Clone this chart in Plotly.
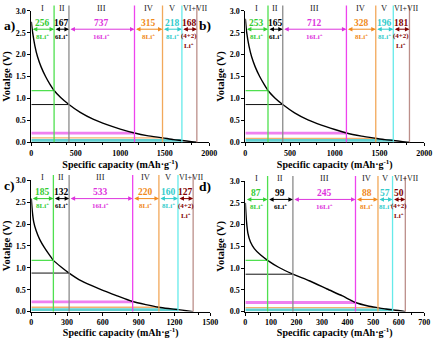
import numpy as np
import plotly.graph_objects as go

FONT = "Liberation Serif, Times New Roman, serif"

# ---------------- data ----------------
stage_names = ["I", "II", "III", "IV", "V", "VI+VII"]
stage_li = ["8Li<sup>+</sup>", "6Li<sup>+</sup>", "16Li<sup>+</sup>", "8Li<sup>+</sup>", "8Li<sup>+</sup>", "(4+2)"]

cap_a = [256, 167, 737, 315, 218, 168]
cap_b = [253, 165, 712, 328, 196, 181]
cap_c = [185, 132, 533, 220, 160, 127]
cap_d = [87, 99, 245, 88, 57, 50]

# voltage at the end of stages I..V (horizontal guide lines)
lvl_a = [1.18, 0.86, 0.21, 0.10, 0.04]
lvl_b = [1.18, 0.86, 0.21, 0.09, 0.04]
lvl_c = [1.17, 0.88, 0.22, 0.10, 0.045]
lvl_d = [1.18, 0.86, 0.21, 0.09, 0.04]

# discharge curves
curve_a_x = [0, 15, 40, 70, 110, 160, 210, 256, 330, 423, 550, 700, 850, 1000, 1160, 1300, 1475, 1600, 1693, 1800, 1861]
curve_a_y = [2.75, 2.5, 2.2, 1.95, 1.72, 1.5, 1.32, 1.18, 1.02, 0.86, 0.68, 0.52, 0.40, 0.30, 0.21, 0.15, 0.10, 0.06, 0.04, 0.015, 0.0]
curve_b_x = [0, 15, 40, 70, 110, 160, 210, 253, 330, 418, 550, 700, 850, 1000, 1130, 1300, 1458, 1560, 1654, 1760, 1835]
curve_b_y = [2.82, 2.5, 2.2, 1.95, 1.72, 1.5, 1.32, 1.18, 1.01, 0.86, 0.67, 0.51, 0.39, 0.29, 0.21, 0.14, 0.09, 0.06, 0.04, 0.015, 0.0]
curve_c_x = [0, 8, 20, 40, 70, 110, 150, 185, 250, 317, 420, 570, 720, 850, 960, 1070, 1150, 1230, 1300, 1357]
curve_c_y = [2.58, 2.3, 2.05, 1.85, 1.65, 1.46, 1.3, 1.17, 1.02, 0.88, 0.70, 0.52, 0.36, 0.23, 0.16, 0.10, 0.07, 0.045, 0.02, 0.0]
curve_d_x = [0, 4, 10, 20, 35, 60, 87, 130, 186, 250, 320, 380, 431, 480, 519, 550, 576, 605, 626]
curve_d_y = [2.5, 2.1, 1.8, 1.6, 1.45, 1.3, 1.18, 1.02, 0.86, 0.71, 0.52, 0.36, 0.21, 0.13, 0.09, 0.06, 0.04, 0.02, 0.0]

xticks_ab = [0, 500, 1000, 1500, 2000]
xticks_c = [0, 300, 600, 900, 1200, 1500]
xticks_d = [0, 100, 200, 300, 400, 500, 600, 700]
yticks = [0.0, 0.5, 1.0, 1.5, 2.0, 2.5, 3.0]

# ---------------- styles ----------------
vline_col = ["#4fe04f", "#8a8a8a", "#ee44ee", "#f2a85a", "#66eaea", "#bc8f8a"]
hline_col = ["#4fe04f", "#111111", "#f080f0", "#f5b070", "#5fcfcf"]
hline_w = [1.2, 1.0, 2.8, 1.3, 2.8]
text_col = ["#33cc33", "#000000", "#dd33dd", "#f08a20", "#33cccc", "#800000"]

W, H = 442, 339
panels = [
    dict(lab="a)", caps=cap_a, lvl=lvl_a, cx=curve_a_x, cy=curve_a_y, xr=[0, 2000], xt=xticks_ab,
         px=(30, 212), py=(7, 142)),
    dict(lab="b)", caps=cap_b, lvl=lvl_b, cx=curve_b_x, cy=curve_b_y, xr=[0, 2000], xt=xticks_ab,
         px=(249, 432), py=(7, 142)),
    dict(lab="c)", caps=cap_c, lvl=lvl_c, cx=curve_c_x, cy=curve_c_y, xr=[0, 1500], xt=xticks_c,
         px=(30, 213), py=(181, 316)),
    dict(lab="d)", caps=cap_d, lvl=lvl_d, cx=curve_d_x, cy=curve_d_y, xr=[0, 700], xt=xticks_d,
         px=(249, 432), py=(182, 316)),
]

fig = go.Figure()
annotations = []
shapes = []
layout = dict(width=W, height=H, margin=dict(l=0, r=0, t=0, b=0),
              paper_bgcolor="white", plot_bgcolor="white", showlegend=False,
              font=dict(family=FONT, color="black"))

for i, p in enumerate(panels):
    n = i + 1
    xa = "x" if n == 1 else f"x{n}"
    ya = "y" if n == 1 else f"y{n}"
    xkey = "xaxis" if n == 1 else f"xaxis{n}"
    ykey = "yaxis" if n == 1 else f"yaxis{n}"
    xd = [p["px"][0] / W, p["px"][1] / W]
    yd = [1 - p["py"][1] / H, 1 - p["py"][0] / H]
    layout[xkey] = dict(domain=xd, anchor=ya, range=p["xr"], tickvals=p["xt"],
                        showline=True, linecolor="black", linewidth=1, ticks="outside",
                        ticklen=3, tickwidth=1, tickcolor="black", showgrid=False, zeroline=False,
                        tickfont=dict(size=8, family=FONT, color="black", weight="bold"),
                        title=dict(text="Specific capacity (mAh·g<sup>-1</sup>)", standoff=4,
                                   font=dict(size=10, family=FONT, weight="bold")),
                        minor=dict(ticks="outside", ticklen=2, nticks=3, tickcolor="black"))
    layout[ykey] = dict(domain=yd, anchor=xa, range=[0, 3.0], tickvals=yticks,
                        tickformat=".1f", showline=True, linecolor="black", linewidth=1,
                        ticks="outside", ticklen=3, tickwidth=1, tickcolor="black",
                        showgrid=False, zeroline=False,
                        tickfont=dict(size=8, family=FONT, color="black", weight="bold"),
                        title=dict(text="Votalge (V)", standoff=3,
                                   font=dict(size=10.5, family=FONT, weight="bold")),
                        minor=dict(ticks="outside", ticklen=2, nticks=2, tickcolor="black"))

    bounds = np.cumsum([0] + p["caps"])
    # horizontal guide lines
    for k in range(5):
        fig.add_trace(go.Scatter(x=[0, bounds[k + 1]], y=[p["lvl"][k], p["lvl"][k]],
                                 mode="lines", line=dict(color=hline_col[k], width=hline_w[k]),
                                 xaxis=xa, yaxis=ya, hoverinfo="skip"))
    # vertical boundaries
    for k in range(6):
        shapes.append(dict(type="line", xref=xa, yref=f"{ya} domain",
                           x0=bounds[k + 1], x1=bounds[k + 1], y0=0, y1=1.04,
                           line=dict(color=vline_col[k], width=1.3)))
    # discharge curve
    fig.add_trace(go.Scatter(x=p["cx"], y=p["cy"], mode="lines",
                             line=dict(color="black", width=1.4, shape="spline", smoothing=0.6),
                             xaxis=xa, yaxis=ya, hoverinfo="skip"))

    for k in range(6):
        x0, x1 = bounds[k], bounds[k + 1]
        xm = (x0 + x1) / 2
        # double arrows
        annotations.append(dict(x=x1, y=2.58, ax=x0, ay=2.58, xref=xa, yref=ya, axref=xa, ayref=ya,
                                text="", showarrow=True, arrowside="end+start", arrowhead=2,
                                arrowsize=0.9, arrowwidth=1, arrowcolor=text_col[k],
                                standoff=0, startstandoff=0))
        # capacity number
        annotations.append(dict(x=xm, y=2.72, xref=xa, yref=ya, text=f"<b>{p['caps'][k]}</b>",
                                showarrow=False, font=dict(size=9.5, color=text_col[k], family=FONT)))
        # Li label
        annotations.append(dict(x=xm, y=2.42, xref=xa, yref=ya, text=f"<b>{stage_li[k]}</b>",
                                showarrow=False, font=dict(size=7, color=text_col[k], family=FONT)))
        if k == 5:
            annotations.append(dict(x=xm, y=2.2, xref=xa, yref=ya, text="<b>Li<sup>+</sup></b>",
                                    showarrow=False, font=dict(size=7, color=text_col[k], family=FONT)))
        # stage name
        if k == 5:
            annotations.append(dict(x=x0, y=1.0, xref=xa, yref=f"{ya} domain", text=stage_names[k],
                                    showarrow=False, yanchor="bottom", xanchor="left", yshift=-4,
                                    xshift=-1, font=dict(size=8, color="#222222", family=FONT)))
        else:
            annotations.append(dict(x=xm, y=1.0, xref=xa, yref=f"{ya} domain", text=stage_names[k],
                                    showarrow=False, yanchor="bottom", yshift=-4,
                                    font=dict(size=8.5, color="#222222", family=FONT)))
    # panel label
    annotations.append(dict(x=(p["px"][0] - 30 + (0 if n in (1, 3) else -19)) / W,
                            y=1 - (p["py"][0] + 5) / H, xref="paper", yref="paper",
                            text=f"<b>{p['lab']}</b>", showarrow=False, xanchor="left",
                            font=dict(size=13.5, family=FONT, color="black")))

layout["annotations"] = annotations
layout["shapes"] = shapes
fig.update_layout(**layout)
fig.write_html("out.html")
